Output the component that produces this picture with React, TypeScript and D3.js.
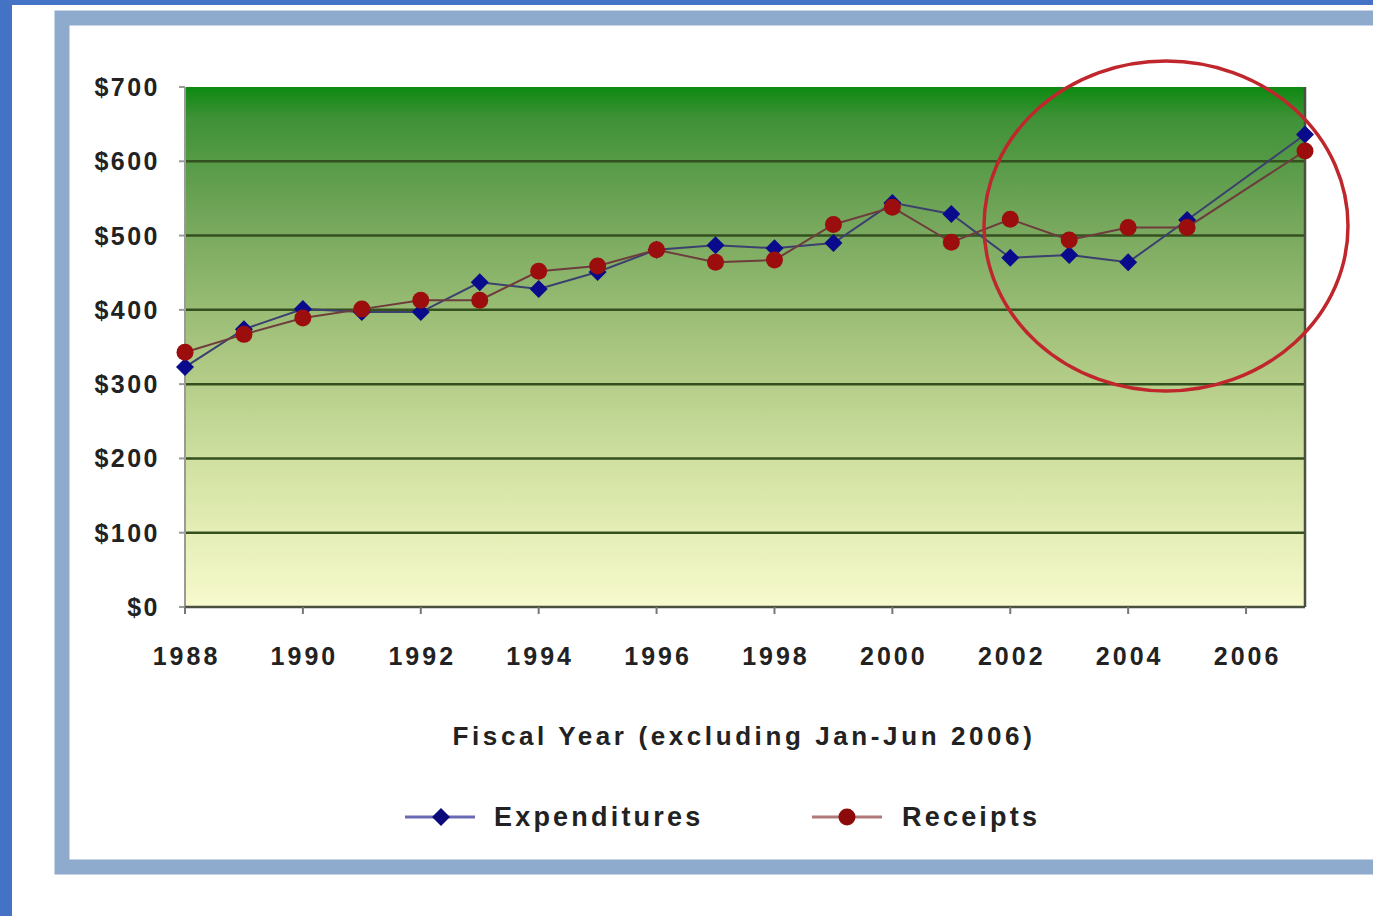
import React from 'react';
import * as d3 from 'd3';

const years = [1988, 1989, 1990, 1991, 1992, 1993, 1994, 1995, 1996, 1997, 1998, 1999, 2000, 2001, 2002, 2003, 2004, 2005, 2007];
const expenditures = [323, 374, 401, 397, 397, 437, 428, 451, 481, 487, 483, 490, 544, 529, 470, 474, 464, 521, 636];
const receipts = [343, 367, 389, 401, 413, 413, 452, 459, 481, 464, 467, 515, 538, 491, 522, 494, 511, 511, 614];
const yTicks = [0, 100, 200, 300, 400, 500, 600, 700];
const xTicks = [1988, 1990, 1992, 1994, 1996, 1998, 2000, 2002, 2004, 2006];

const W = 1373;
const H = 916;
const plot = { left: 185, right: 1305, top: 87, bottom: 607 };
const font = '"Liberation Sans", Arial, sans-serif';

const App = () => {
  const x = d3.scaleLinear().domain([1988, 2007]).range([plot.left, plot.right]);
  const y = d3.scaleLinear().domain([0, 700]).range([plot.bottom, plot.top]);

  const line = d3
    .line<number>()
    .x((_, i) => x(years[i]))
    .y((d) => y(d));

  const diamond = (cx: number, cy: number, r: number) =>
    `M${cx},${cy - r}L${cx + r},${cy}L${cx},${cy + r}L${cx - r},${cy}Z`;

  return (
    <svg
      width={W}
      height={H}
      style={{ position: 'absolute', left: 0, top: 0, background: '#fff' }}
    >
      <defs>
        <linearGradient id="bg" x1="0" y1="0" x2="0" y2="1">
          <stop offset="0" stopColor="#0c8a10" />
          <stop offset="0.06" stopColor="#3f9137" />
          <stop offset="0.25" stopColor="#73a65a" />
          <stop offset="0.5" stopColor="#a8c57f" />
          <stop offset="0.75" stopColor="#d5e4a5" />
          <stop offset="1" stopColor="#f8facd" />
        </linearGradient>
      </defs>

      {/* slide edges */}
      <rect x={0} y={0} width={12} height={H} fill="#4472c4" />
      <rect x={0} y={0} width={W} height={5} fill="#4472c4" />

      {/* chart frame */}
      <rect x={62} y={18} width={1330} height={849} fill="#fff" stroke="#8eaacd" strokeWidth={15} />

      {/* plot area */}
      <rect
        x={plot.left}
        y={plot.top}
        width={plot.right - plot.left}
        height={plot.bottom - plot.top}
        fill="url(#bg)"
      />
      <g className="grid">
        {yTicks.filter((t) => t > 0 && t < 700).map((t) => (
          <line
            key={t}
            x1={plot.left}
            x2={plot.right}
            y1={y(t)}
            y2={y(t)}
            stroke="#34501e"
            strokeWidth={2.5}
          />
        ))}
      </g>
      <line x1={plot.left} x2={plot.left} y1={plot.top} y2={plot.bottom} stroke="#9a9a9a" strokeWidth={2} />
      <line x1={plot.right} x2={plot.right} y1={plot.top} y2={plot.bottom} stroke="#4a5040" strokeWidth={2.5} />
      <line x1={plot.left} x2={plot.right} y1={plot.bottom} y2={plot.bottom} stroke="#4a5040" strokeWidth={2.5} />

      {/* y axis */}
      <g className="y-axis">
        {yTicks.map((t) => (
          <g key={t}>
            <line x1={plot.left - 6} x2={plot.left} y1={y(t)} y2={y(t)} stroke="#9a9a9a" strokeWidth={2} />
            <text
              x={160}
              y={y(t)}
              dy="0.36em"
              textAnchor="end"
              fontFamily={font}
              fontWeight="bold"
              fontSize={25}
              letterSpacing={2.5}
              fill="#222"
            >
              {`$${t}`}
            </text>
          </g>
        ))}
      </g>

      {/* x axis */}
      <g className="x-axis">
        {xTicks.map((t) => (
          <g key={t}>
            <line x1={x(t)} x2={x(t)} y1={plot.bottom} y2={plot.bottom + 7} stroke="#777" strokeWidth={2} />
            <text
              x={x(t) + 1.5}
              y={665}
              textAnchor="middle"
              fontFamily={font}
              fontWeight="bold"
              fontSize={25}
              letterSpacing={3}
              fill="#222"
            >
              {t}
            </text>
          </g>
        ))}
        <text
          x={744}
          y={745}
          textAnchor="middle"
          fontFamily={font}
          fontWeight="bold"
          fontSize={26}
          letterSpacing={3.6}
          fill="#222"
        >
          Fiscal Year (excluding Jan-Jun 2006)
        </text>
      </g>

      {/* series */}
      <path d={line(expenditures) || ''} fill="none" stroke="#3c406e" strokeWidth={2} />
      <path d={line(receipts) || ''} fill="none" stroke="#6e3c3c" strokeWidth={2} />
      <g className="exp-points">
        {expenditures.map((v, i) => (
          <path key={i} d={diamond(x(years[i]), y(v), 9)} fill="#0a0a8c" />
        ))}
      </g>
      <g className="rec-points">
        {receipts.map((v, i) => (
          <circle key={i} cx={x(years[i])} cy={y(v)} r={8.5} fill="#9c0d0d" />
        ))}
      </g>

      {/* annotation */}
      <ellipse cx={1166} cy={226} rx={182} ry={165} fill="none" stroke="#c0272d" strokeWidth={3.5} />

      {/* legend */}
      <g className="legend" fontFamily={font} fontWeight="bold" fontSize={27} letterSpacing={3.2} fill="#222">
        <line x1={405} x2={475} y1={817} y2={817} stroke="#6a6ab4" strokeWidth={3} />
        <path d={diamond(441, 817, 9)} fill="#0a0a7a" />
        <text x={494} y={826}>Expenditures</text>
        <line x1={812} x2={882} y1={817} y2={817} stroke="#b07878" strokeWidth={3} />
        <circle cx={847} cy={817} r={8.5} fill="#8c0a0a" />
        <text x={902} y={826}>Receipts</text>
      </g>
    </svg>
  );
};

export default App;
